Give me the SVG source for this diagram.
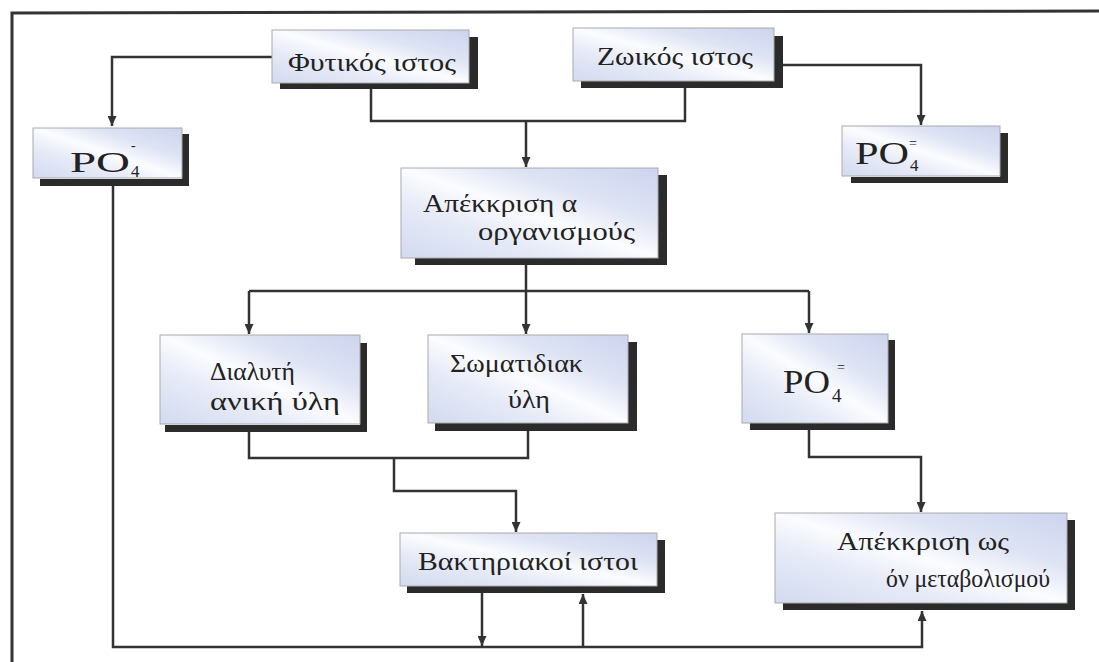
<svg xmlns="http://www.w3.org/2000/svg" width="1099" height="662" viewBox="0 0 1099 662">
<defs>
<linearGradient id="fill" x1="0" y1="1" x2="1" y2="0">
<stop offset="0" stop-color="#d3daf0"/>
<stop offset="0.3" stop-color="#e6eaf7"/>
<stop offset="0.5" stop-color="#fbfcff"/>
<stop offset="0.7" stop-color="#dfe4f4"/>
<stop offset="1" stop-color="#ccd4ee"/>
</linearGradient>
<marker id="ah" viewBox="0 0 10 9" refX="10" refY="4.5" markerWidth="10" markerHeight="9" markerUnits="userSpaceOnUse" orient="auto">
<path d="M0,0 L10,4.5 L0,9 z" fill="#333"/>
</marker>
</defs>
<style>
.box{fill:url(#fill);stroke:#aaa;stroke-width:1}
.sh{fill:#2b2b2b}
.t{font-family:"Liberation Serif","DejaVu Serif","Times New Roman",serif;font-size:26px;fill:#222}
.po{font-family:"Liberation Serif","DejaVu Serif","Times New Roman",serif;fill:#222}
.c{fill:none;stroke:#333;stroke-width:2.5}
.frame{fill:none;stroke:#333;stroke-width:3}
</style>
<rect width="1099" height="662" fill="#fff"/>
<path class="frame" d="M12,662 V13 L1099,11"/>
<g id="connectors">
<path class="c" d="M272,57 H112 V126" marker-end="url(#ah)"/>
<path class="c" d="M774,65 H921 V125" marker-end="url(#ah)"/>
<path class="c" d="M371,89 V121 H685 V88"/>
<path class="c" d="M526,121 V167" marker-end="url(#ah)"/>
<path class="c" d="M526,265 V291"/>
<path class="c" d="M249,291 H809"/>
<path class="c" d="M249,291 V334" marker-end="url(#ah)"/>
<path class="c" d="M526,291 V334" marker-end="url(#ah)"/>
<path class="c" d="M809,291 V333" marker-end="url(#ah)"/>
<path class="c" d="M249,432 V458 H528 V431"/>
<path class="c" d="M394,458 V491 H516 V532" marker-end="url(#ah)"/>
<path class="c" d="M809,430 V457 H921 V512" marker-end="url(#ah)"/>
<path class="c" d="M113,185 V647 H922 V611" marker-end="url(#ah)"/>
<path class="c" d="M482,593 V646" marker-end="url(#ah)"/>
<path class="c" d="M583,647 V594" marker-end="url(#ah)"/>
</g>
<g id="fytikos">
<rect class="sh" x="469" y="37" width="9" height="52"/>
<rect class="sh" x="280" y="83" width="198" height="6"/>
<rect class="box" x="272" y="30" width="197" height="53"/>
<text class="t" x="288" y="71" textLength="168" lengthAdjust="spacingAndGlyphs">Φυτικός ιστος</text>
</g>
<g id="zoikos">
<rect class="sh" x="774" y="36" width="9" height="52"/>
<rect class="sh" x="581" y="81" width="202" height="7"/>
<rect class="box" x="573" y="28" width="201" height="53"/>
<text class="t" x="597" y="65" textLength="156" lengthAdjust="spacingAndGlyphs">Ζωικός ιστος</text>
</g>
<g id="po4-left">
<rect class="sh" x="182" y="134" width="7" height="51"/>
<rect class="sh" x="40" y="179" width="149" height="7"/>
<rect class="box" x="33" y="128" width="149" height="50"/>
<text class="po" x="70" y="172" font-size="30" textLength="60" lengthAdjust="spacingAndGlyphs">PO</text>
<text class="po" x="131" y="177" font-size="17">4</text>
<text class="po" x="131" y="150" font-size="14">-</text>
</g>
<g id="po4-right">
<rect class="sh" x="1000" y="133" width="8" height="50"/>
<rect class="sh" x="851" y="177" width="157" height="6"/>
<rect class="box" x="842" y="126" width="158" height="50"/>
<text class="po" x="855" y="164" font-size="31" textLength="54" lengthAdjust="spacingAndGlyphs">PO</text>
<text class="po" x="910" y="171" font-size="17">4</text>
<text class="po" x="909" y="148" font-size="14">=</text>
</g>
<g id="apekkrisi-organismous">
<rect class="sh" x="658" y="175" width="9" height="90"/>
<rect class="sh" x="415" y="258" width="252" height="7"/>
<rect class="box" x="401" y="168" width="257" height="90"/>
<text class="t" x="423" y="212" font-size="25" textLength="154" lengthAdjust="spacingAndGlyphs">Απέκκριση α</text>
<text class="t" x="478" y="240" font-size="25" textLength="157" lengthAdjust="spacingAndGlyphs">οργανισμούς</text>
</g>
<g id="dialyti">
<rect class="sh" x="360" y="343" width="7" height="89"/>
<rect class="sh" x="165" y="425" width="202" height="7"/>
<rect class="box" x="160" y="335" width="200" height="89"/>
<text class="t" x="210" y="380" textLength="85" lengthAdjust="spacingAndGlyphs">Διαλυτή</text>
<text class="t" x="210" y="410" textLength="130" lengthAdjust="spacingAndGlyphs">ανική ύλη</text>
</g>
<g id="somatidiaki">
<rect class="sh" x="628" y="342" width="9" height="89"/>
<rect class="sh" x="435" y="423" width="202" height="8"/>
<rect class="box" x="428" y="335" width="200" height="88"/>
<text class="t" x="450" y="372" textLength="133" lengthAdjust="spacingAndGlyphs">Σωματιδιακ</text>
<text class="t" x="508" y="408" textLength="42" lengthAdjust="spacingAndGlyphs">ύλη</text>
</g>
<g id="po4-mid">
<rect class="sh" x="888" y="340" width="7" height="90"/>
<rect class="sh" x="750" y="423" width="145" height="7"/>
<rect class="box" x="742" y="334" width="146" height="89"/>
<text class="po" x="783" y="393" font-size="34" textLength="47" lengthAdjust="spacingAndGlyphs">PO</text>
<text class="po" x="832" y="402" font-size="19">4</text>
<text class="po" x="837" y="372" font-size="14">=</text>
</g>
<g id="vaktiriakoi">
<rect class="sh" x="657" y="540" width="8" height="52"/>
<rect class="sh" x="407" y="586" width="258" height="7"/>
<rect class="box" x="400" y="533" width="257" height="53"/>
<text class="t" x="418" y="570" textLength="220" lengthAdjust="spacingAndGlyphs">Βακτηριακοί ιστοι</text>
</g>
<g id="apekkrisi-metabolismou">
<rect class="sh" x="1067" y="520" width="8" height="90"/>
<rect class="sh" x="783" y="603" width="292" height="7"/>
<rect class="box" x="775" y="513" width="292" height="90"/>
<text class="t" x="837" y="550" textLength="172" lengthAdjust="spacingAndGlyphs">Απέκκριση ως</text>
<text class="t" x="886" y="587" textLength="164" lengthAdjust="spacingAndGlyphs">όν μεταβολισμού</text>
</g>
</svg>
